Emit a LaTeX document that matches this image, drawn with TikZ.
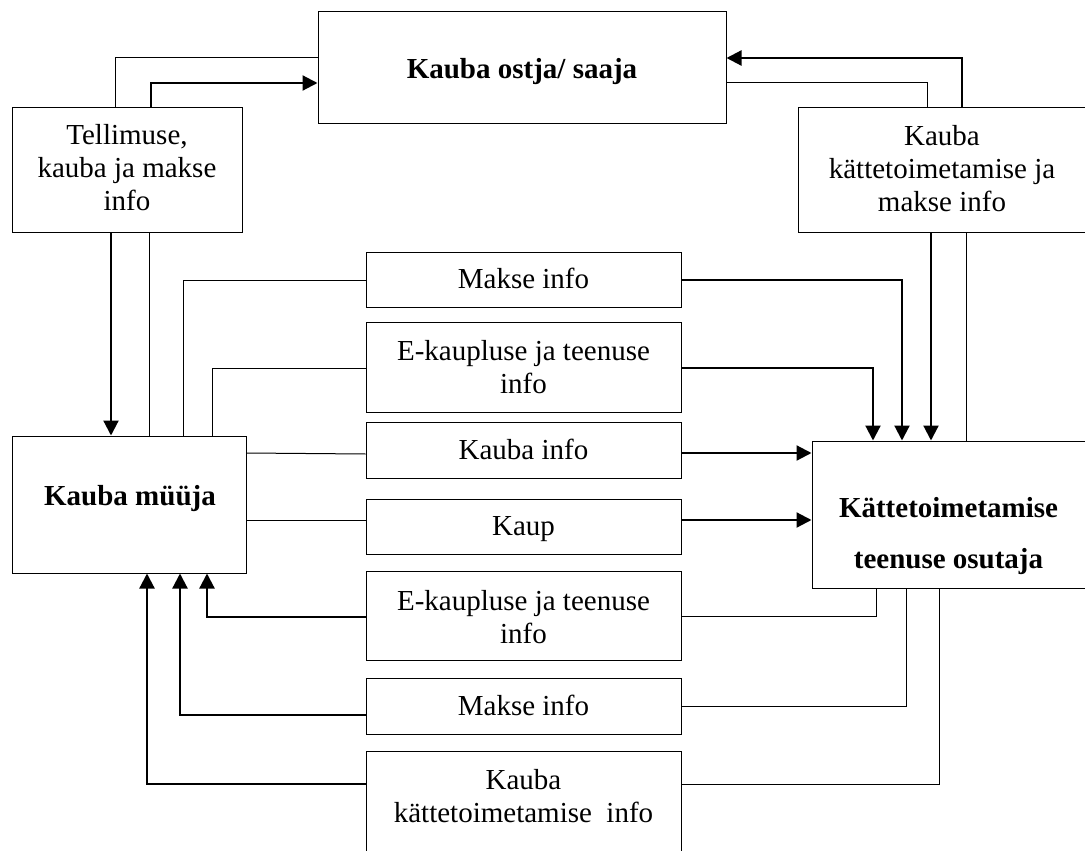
\documentclass[tikz,border=0pt]{standalone}
\usepackage{fontspec}
\setmainfont{Liberation Serif}
\usetikzlibrary{arrows.meta}
\begin{document}
\begin{tikzpicture}[x=1pt,y=-1pt,
  box/.style={draw, line width=1pt, inner sep=0pt, fill=none},
  txt/.style={inner sep=0pt, anchor=base, align=center, font=\fontsize{29}{33}\selectfont},
  btxt/.style={txt, font=\fontsize{29}{33}\selectfont\bfseries},
  thinline/.style={line width=1pt},
  thickarrow/.style={line width=2.2pt, -{Triangle[length=15pt,width=15pt]}},
  thickline/.style={line width=2.2pt}]
\useasboundingbox (0,0) rectangle (1085,851);
\clip (0,0) rectangle (1085,851);
\fill[white] (0,0) rectangle (1085,851);
% boxes
\node[box, minimum width=408pt, minimum height=111pt] (ostja) at (522,67.5) {};
\node[box, minimum width=230pt, minimum height=125pt] (tel) at (127,169.5) {};
\node[box, minimum width=290pt, minimum height=125pt] (kmi) at (943,169.5) {};
\node[box, minimum width=234pt, minimum height=137pt] (myyja) at (129,504.5) {};
\node[box, minimum width=276pt, minimum height=147pt] (kat) at (950,514.5) {};
\node[box, minimum width=315pt, minimum height=55pt] (makse1) at (523.5,279.5) {};
\node[box, minimum width=315pt, minimum height=90pt] (ek1) at (523.5,367) {};
\node[box, minimum width=315pt, minimum height=56pt] (kinfo) at (523.5,450) {};
\node[box, minimum width=315pt, minimum height=55pt] (kaup) at (523.5,526.5) {};
\node[box, minimum width=315pt, minimum height=89pt] (ek2) at (523.5,615.5) {};
\node[box, minimum width=315pt, minimum height=56pt] (makse2) at (523.5,706) {};
\node[box, minimum width=315pt, minimum height=119pt] (kki) at (523.5,810.5) {};
% texts (base anchor = baseline of the last line)
\node[btxt] (t-ostja) at (522,79) {Kauba ostja/ saaja};
\node[txt] (t-tel) at (127,210) {Tellimuse,\\kauba ja makse\\info};
\node[txt] (t-kmi) at (942,211) {Kauba\\kättetoimetamise ja\\makse info};
\node[btxt] (t-myyja) at (130,505) {Kauba müüja};
\node[btxt, font=\fontsize{29}{51}\selectfont\bfseries] (t-kat) at (948.5,568) {Kättetoimetamise\\teenuse osutaja};
\node[txt] (t-makse1) at (523.5,288) {Makse info};
\node[txt] (t-ek1) at (523.5,393) {E-kaupluse ja teenuse\\info};
\node[txt] (t-kinfo) at (523.5,459) {Kauba info};
\node[txt] (t-kaup) at (523.5,535) {Kaup};
\node[txt] (t-ek2) at (523.5,643) {E-kaupluse ja teenuse\\info};
\node[txt] (t-makse2) at (523.5,715) {Makse info};
\node[txt] (t-kki) at (523.5,822) {Kauba\\kättetoimetamise\ \ info};
% connectors top
\draw[thinline] (115,0 |- tel.north) |- (ostja.west |- 0,58);
\draw[thickarrow] (151,0 |- tel.north) |- (ostja.west |- 0,83);
\draw[thickarrow] (962,0 |- kmi.north) |- (ostja.east |- 0,58);
\draw[thinline] (927,0 |- kmi.north) |- (ostja.east |- 0,83);
% tellimuse -> myyja
\draw[thickarrow] (111,0 |- tel.south) -- (111,0 |- myyja.north);
\draw[thinline] (149,0 |- tel.south) -- (149,0 |- myyja.north);
% myyja -> middle upper
\draw[thinline] (183,0 |- myyja.north) |- (makse1.west |- 0,280);
\draw[thinline] (212,0 |- myyja.north) |- (ek1.west |- 0,368);
\draw[thinline] (myyja.east |- 0,453) -- (kinfo.west |- 0,454);
\draw[thinline] (myyja.east |- 0,520) -- (kaup.west |- 0,520);
% middle upper -> kat
\draw[thickarrow] (makse1.east |- 0,280) -| (902,0 |- kat.north);
\draw[thickarrow] (ek1.east |- 0,368) -| (873,0 |- kat.north);
\draw[thickarrow] (931,0 |- kmi.south) -- (931,0 |- kat.north);
\draw[thinline] (966,0 |- kmi.south) -- (966,0 |- kat.north);
\draw[thickarrow] (kinfo.east |- 0,453) -- (kat.west |- 0,453);
\draw[thickarrow] (kaup.east |- 0,520) -- (kat.west |- 0,520);
% kat -> middle lower
\draw[thinline] (876,0 |- kat.south) |- (ek2.east |- 0,616);
\draw[thinline] (906,0 |- kat.south) |- (makse2.east |- 0,706);
\draw[thinline] (939,0 |- kat.south) |- (kki.east |- 0,784);
% middle lower -> myyja
\draw[thickarrow] (ek2.west |- 0,617) -| (207,0 |- myyja.south);
\draw[thickarrow] (makse2.west |- 0,715) -| (180,0 |- myyja.south);
\draw[thickarrow] (kki.west |- 0,784) -| (147,0 |- myyja.south);
\end{tikzpicture}
\end{document}
